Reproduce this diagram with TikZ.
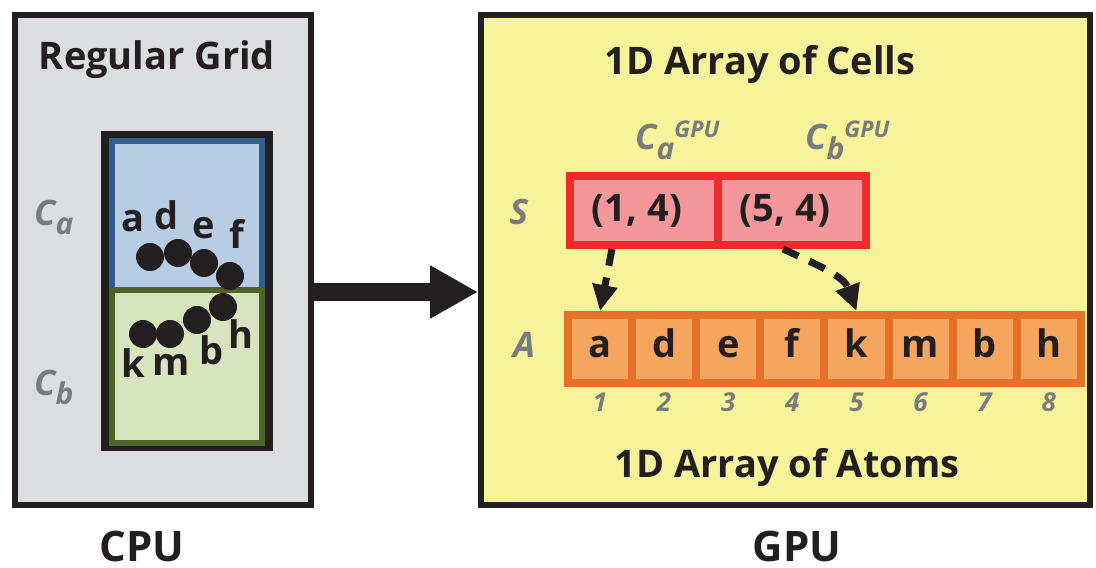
\documentclass[tikz,border=0pt]{standalone}
\usepackage{fontspec}
\setmainfont{Open Sans}
\usetikzlibrary{arrows.meta}
\definecolor{ink}{HTML}{231F20}
\definecolor{cpugray}{HTML}{DCDDDF}
\definecolor{gpuyellow}{HTML}{F7F39A}
\definecolor{cellblue}{HTML}{B8CCE4}
\definecolor{edgeblue}{HTML}{2F5E8C}
\definecolor{cellgreen}{HTML}{D7E4BD}
\definecolor{edgegreen}{HTML}{4F6228}
\definecolor{spink}{HTML}{F4979A}
\definecolor{sred}{HTML}{EE2A2A}
\definecolor{aorange}{HTML}{F6A55E}
\definecolor{aedge}{HTML}{E8712A}
\definecolor{tagray}{HTML}{7A7B7E}
\newcommand{\bigtxt}{\fontsize{38}{38}\selectfont\bfseries}
\newcommand{\tagtxt}{\fontsize{35}{35}\selectfont\bfseries\itshape}
\begin{document}
\begin{tikzpicture}[x=1pt, y=1pt,
  every node/.style={font=\bigtxt, text=ink},
  frame/.style={draw=ink, line width=6pt, inner sep=0pt},
  atom/.style={circle, fill=ink, minimum size=28pt, inner sep=0pt},
  atomname/.style={anchor=base, inner sep=0pt},
  tag/.style={font=\tagtxt, text=tagray, anchor=base west, inner sep=0pt},
  scell/.style={draw=sred, fill=spink, line width=8pt, minimum width=148pt, minimum height=69pt, inner sep=0pt},
  acell/.style={draw=aedge, fill=aorange, line width=8pt, minimum width=64.1pt, minimum height=68pt, inner sep=0pt, text height=28pt, text depth=10pt},
  idx/.style={font=\fontsize{26}{26}\selectfont\bfseries\itshape, text=tagray, anchor=base, inner sep=0pt},
  sidelbl/.style={font=\fontsize{42}{42}\selectfont\bfseries, anchor=base, inner sep=0pt}]
\useasboundingbox (0,0) rectangle (1096,568);
% CPU side
\node[frame, fill=cpugray, minimum width=296pt, minimum height=490pt] (cpu) at (163,308) {};
\node[frame, line width=8pt, minimum width=164pt, minimum height=312pt] (grid) at (187,277) {};
\node[draw=edgeblue, fill=cellblue, line width=6pt, minimum width=150pt, minimum height=149pt, inner sep=0pt] (ca) at (187,352.5) {};
\node[draw=edgegreen, fill=cellgreen, line width=6pt, minimum width=150pt, minimum height=153pt, inner sep=0pt] (cb) at (187,201.5) {};
\node[anchor=base] (rgrid) at (157,498) {Regular Grid};
\node[tag] (lca) at (34,342) {C\raisebox{-9pt}{\fontsize{30}{30}\selectfont a}};
\node[tag] (lcb) at (34,172) {C\raisebox{-9pt}{\fontsize{30}{30}\selectfont b}};
% atoms
\foreach \n/\x/\y in {a/150/311, d/178/315, e/204/305, f/230/292, h/223/261, b/197/248, m/170/234, k/143/234}
  \node[atom] (at\n) at (\x,\y) {};
\foreach \n/\x/\y in {a/133/336, d/167/338, e/204/329, f/237/319, h/241/219, b/212/203, m/171/192, k/133/190}
  \node[atomname] (nm\n) at (\x,\y) {\n};
\node[sidelbl] (cpulbl) at (142,6) {CPU};
% GPU side
\node[frame, fill=gpuyellow, minimum width=609pt, minimum height=490pt] (gpu) at (785.5,308) {};
\coordinate (mid) at (0,276);
\draw[ink, line width=18pt, -{Triangle[length=48pt, width=50pt]}] (cpu.east |- mid) -- (gpu.west |- mid);
\node[anchor=base] (cellsttl) at (760,493) {1D Array of Cells};
\node[tag] (gca) at (635,418) {C\raisebox{-10pt}{\fontsize{30}{30}\selectfont a}\raisebox{12pt}{\fontsize{23}{23}\selectfont GPU}};
\node[tag] (gcb) at (805,418) {C\raisebox{-10pt}{\fontsize{30}{30}\selectfont b}\raisebox{12pt}{\fontsize{23}{23}\selectfont GPU}};
\node[tag, anchor=base] (lS) at (519,343) {S};
\node[tag, anchor=base] (lA) at (524,210) {A};
\node[scell] (s1) at (644,357.5) {\hspace*{-14pt}(1, 4)};
\node[scell] (s2) at (792,357.5) {\hspace*{-14pt}(5, 4)};
\foreach \c [count=\i] in {a,d,e,f,k,m,b,h}
  \node[acell] (a\i) at ({568+64.1*(\i-0.5)},219) {\c};
\foreach \i in {1,...,8}
  \node[idx] (n\i) at (a\i |- 0,156) {\i};
\draw[ink, line width=7pt, dash pattern=on 17pt off 12pt, -{Triangle[length=26pt, width=24pt]}] ([xshift=-32pt]s1.south) -- (a1.north);
\draw[ink, line width=7pt, dash pattern=on 17pt off 12pt, -{Triangle[length=26pt, width=24pt]}] ([xshift=-9pt]s2.south) to[out=-25, in=110] (a5.north);
\node[anchor=base] (atomsttl) at (787,90) {1D Array of Atoms};
\node[sidelbl] (gpulbl) at (797,6) {GPU};
\end{tikzpicture}
\end{document}
